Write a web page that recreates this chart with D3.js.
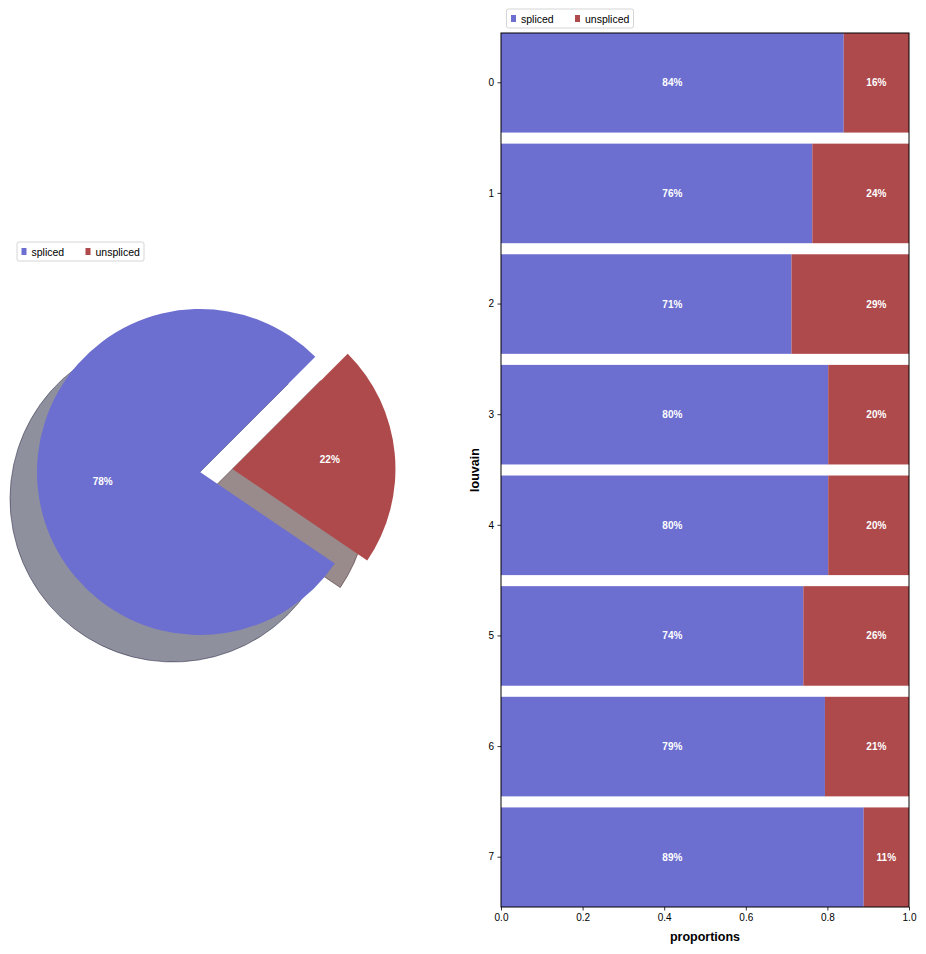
<!DOCTYPE html>
<html>
<head>
<meta charset="utf-8">
<script src="https://cdn.jsdelivr.net/npm/d3@7"></script>
<style>
  html, body { margin: 0; padding: 0; background: #fff; }
  svg text { font-family: "Liberation Sans", Arial, Helvetica, sans-serif; }
</style>
</head>
<body>
<svg id="chart" width="926" height="954"></svg>
<script>
// ---------- data ----------
const seriesNames = ["spliced", "unspliced"];
const pieValues = [0.78, 0.22];
const categories = ["0", "1", "2", "3", "4", "5", "6", "7"];
const splicedValues = [0.840, 0.763, 0.712, 0.802, 0.802, 0.741, 0.794, 0.889];
const unsplicedValues = [0.160, 0.237, 0.288, 0.198, 0.198, 0.259, 0.206, 0.111];
const xTicks = [0, 0.2, 0.4, 0.6, 0.8, 1.0];
const colors = ["#6c6fd0", "#ae4a4c"];

const svg = d3.select("#chart");
const FONT = '"Liberation Sans", Arial, Helvetica, sans-serif';

function shadowColor(c) {
  const r = d3.rgb(c);
  return d3.rgb(r.r * 0.3, r.g * 0.3, r.b * 0.3).toString();
}

function legend(g, lx, ly) {
  g.append("rect").attr("x", lx).attr("y", ly).attr("width", 127).attr("height", 19)
    .attr("rx", 2).attr("fill", "#fff").attr("stroke", "#d5d5d5").attr("stroke-width", 1);
  const offs = [0, 64];
  seriesNames.forEach((n, i) => {
    g.append("rect").attr("x", lx + 4.5 + offs[i]).attr("y", ly + 6).attr("width", 5).attr("height", 7)
      .attr("fill", colors[i]);
    g.append("text").attr("x", lx + 14.5 + offs[i]).attr("y", ly + 13.5)
      .attr("font-size", "10.5px").attr("fill", "#000").text(n);
  });
}

// ---------- pie ----------
const R = 163;
const cx = 200, cy = 472;
const explode = [0, 0.2];
const shadowOff = [-27, 27];
const pieGen = d3.pie().sort(null)
  .startAngle(Math.PI / 4)
  .endAngle(Math.PI / 4 - 2 * Math.PI);
const arcs = pieGen(pieValues);
const arcGen = d3.arc().innerRadius(0).outerRadius(R);
const labelArc = d3.arc().innerRadius(R * 0.6).outerRadius(R * 0.6);

const pieG = svg.append("g");
function wedgeOffset(d, i) {
  const mid = (d.startAngle + d.endAngle) / 2;
  return [Math.sin(mid) * R * explode[i], -Math.cos(mid) * R * explode[i]];
}
// shadows
arcs.forEach((d, i) => {
  const [ox, oy] = wedgeOffset(d, i);
  const sc = shadowColor(colors[i]);
  pieG.append("path")
    .attr("d", arcGen(d))
    .attr("transform", `translate(${cx + ox + shadowOff[0]},${cy + oy + shadowOff[1]})`)
    .attr("fill", sc).attr("fill-opacity", 0.5)
    .attr("stroke", sc).attr("stroke-opacity", 0.5).attr("stroke-width", 1);
});
// wedges
arcs.forEach((d, i) => {
  const [ox, oy] = wedgeOffset(d, i);
  pieG.append("path")
    .attr("d", arcGen(d))
    .attr("transform", `translate(${cx + ox},${cy + oy})`)
    .attr("fill", colors[i]);
});
// labels
arcs.forEach((d, i) => {
  const [ox, oy] = wedgeOffset(d, i);
  const [lx, ly] = labelArc.centroid(d);
  pieG.append("text")
    .attr("x", cx + ox + lx).attr("y", cy + oy + ly)
    .attr("text-anchor", "middle").attr("dominant-baseline", "central")
    .attr("font-size", "10px").attr("font-weight", "bold").attr("fill", "#fff")
    .text(Math.round(pieValues[i] * 100) + "%");
});
legend(svg.append("g"), 17, 242);

// ---------- stacked horizontal bars ----------
const mLeft = 501, mRight = 909, mTop = 33, mBottom = 907;
const x = d3.scaleLinear().domain([0, 1]).range([mLeft, mRight]);
const y = d3.scaleBand().domain(categories).range([mTop, mBottom]).paddingInner(0.1).paddingOuter(0);

// label anchor positions (the reference places labels at the first row's segment centres)
const splicedLabelX = x(splicedValues[0] / 2);
const unsplicedRefX = x(splicedValues[0] + unsplicedValues[0] / 2);

const barG = svg.append("g");
categories.forEach((c, i) => {
  const segs = [[0, splicedValues[i]], [splicedValues[i], splicedValues[i] + unsplicedValues[i]]];
  segs.forEach((s, k) => {
    barG.append("rect")
      .attr("x", x(s[0])).attr("y", y(c))
      .attr("width", x(s[1]) - x(s[0])).attr("height", y.bandwidth())
      .attr("fill", colors[k]);
  });
  const ownUnsplicedX = (x(segs[1][0]) + x(segs[1][1])) / 2;
  const lxs = [splicedLabelX, Math.max(unsplicedRefX, ownUnsplicedX)];
  [splicedValues[i], unsplicedValues[i]].forEach((v, k) => {
    barG.append("text")
      .attr("x", lxs[k]).attr("y", y(c) + y.bandwidth() / 2)
      .attr("text-anchor", "middle").attr("dominant-baseline", "central")
      .attr("font-size", "10px").attr("font-weight", "bold").attr("fill", "#fff")
      .text(Math.round(v * 100) + "%");
  });
});

// frame
svg.append("rect").attr("x", mLeft).attr("y", mTop).attr("width", mRight - mLeft).attr("height", mBottom - mTop)
  .attr("fill", "none").attr("stroke", "#000").attr("stroke-width", 1);

// axes
const xAxis = svg.append("g").attr("transform", `translate(0,${mBottom})`)
  .call(d3.axisBottom(x).tickValues(xTicks).tickFormat(d3.format(".1f")).tickSize(3.5).tickPadding(3.5));
const yAxis = svg.append("g").attr("transform", `translate(${mLeft},0)`)
  .call(d3.axisLeft(y).tickSize(3.5).tickPadding(3.5));
[xAxis, yAxis].forEach(a => {
  a.select(".domain").remove();
  a.selectAll("line").attr("stroke", "#000").attr("stroke-width", 0.8);
  a.selectAll("text").attr("font-size", "10px").attr("fill", "#000").attr("font-family", FONT);
});

svg.append("text").attr("x", (mLeft + mRight) / 2).attr("y", 941)
  .attr("text-anchor", "middle").attr("font-size", "12.5px").attr("font-weight", "bold").text("proportions");
svg.append("text").attr("transform", `translate(479,${(mTop + mBottom) / 2}) rotate(-90)`)
  .attr("text-anchor", "middle").attr("font-size", "12.5px").attr("font-weight", "bold").text("louvain");

legend(svg.append("g"), 506.5, 9);
</script>
</body>
</html>
